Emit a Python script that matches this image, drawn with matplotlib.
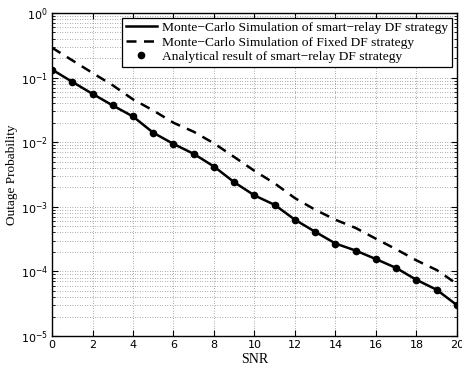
import numpy as np
import matplotlib.pyplot as plt
from matplotlib.ticker import LogLocator, NullFormatter

snr = list(range(0, 21))

# Monte-Carlo, smart-relay DF
smart_relay = [0.133, 0.086, 0.056, 0.037, 0.025, 0.014, 0.0094, 0.0066, 0.0042,
               0.0024, 0.0015, 0.00107, 0.00063, 0.00041, 0.00027, 0.00021,
               0.000155, 0.000113, 0.000074, 0.000052, 0.000030]
# Monte-Carlo, fixed DF
fixed_df = [0.29, 0.185, 0.118, 0.076, 0.046, 0.031, 0.020, 0.0145, 0.0096,
            0.0059, 0.0036, 0.0023, 0.00136, 0.00090, 0.00063, 0.00047,
            0.00032, 0.00022, 0.000148, 0.000105, 0.000064]
# analytical result (same points as smart-relay curve)
analytical = smart_relay

labels = ["Monte\u2212Carlo Simulation of smart\u2212relay DF strategy",
          "Monte\u2212Carlo Simulation of Fixed DF strategy",
          "Analytical result of smart\u2212relay DF strategy"]

fig = plt.figure(figsize=(4.62, 3.67), dpi=100)
ax = fig.add_axes([0.1126, 0.0845, 0.8764, 0.8801])

ax.semilogy(snr, smart_relay, "k-", lw=1.8, label=labels[0])
ax.semilogy(snr, fixed_df, "k--", lw=1.8, dashes=(4, 3), label=labels[1])
ax.semilogy(snr, analytical, "ko", ms=4.5, label=labels[2])

ax.set_xlim(0, 20)
ax.set_ylim(1e-5, 1)
ax.set_xticks(range(0, 21, 2))
ax.yaxis.set_major_locator(LogLocator(base=10, numticks=10))
ax.yaxis.set_minor_locator(LogLocator(base=10, subs=np.arange(2, 10), numticks=20))
ax.yaxis.set_minor_formatter(NullFormatter())

grid_kw = dict(color="0.45", lw=0.6, dashes=(0.8, 2.2))
ax.grid(True, which="major", axis="x", **grid_kw)
ax.grid(True, which="both", axis="y", **grid_kw)
ax.tick_params(which="both", direction="in", top=True, right=True,
               labelsize=8, pad=3)
ax.tick_params(which="major", length=4)
ax.tick_params(which="minor", length=2)
for s in ax.spines.values():
    s.set_linewidth(1.0)

serif = ["Liberation Serif", "DejaVu Serif"]
ax.set_xlabel("SNR", family=serif, fontsize=10, labelpad=2)
ax.set_ylabel("Outage Probability", family=serif, fontsize=9.5, labelpad=2)

leg = ax.legend(loc="upper right", prop={"family": serif, "size": 9.7},
                fancybox=False, framealpha=1, edgecolor="k",
                borderpad=0.3, labelspacing=0.15, handlelength=2.3,
                handletextpad=0.4, borderaxespad=0.35)
leg.get_frame().set_linewidth(0.9)

fig.savefig("out.png", dpi=100)
